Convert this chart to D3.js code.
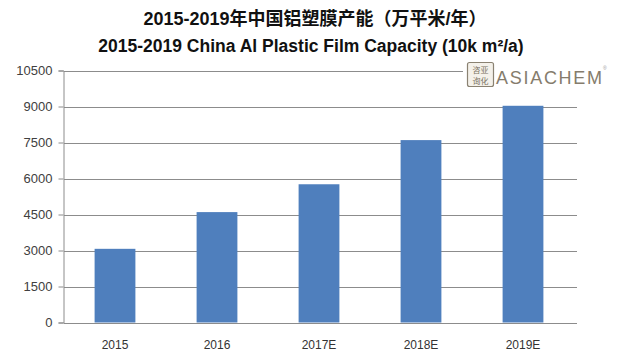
<!DOCTYPE html>
<html><head><meta charset="utf-8">
<script src="https://cdn.jsdelivr.net/npm/d3@7/dist/d3.min.js"></script>
<style>body{margin:0;background:#fff;}svg{display:block;}</style>
</head><body>
<svg id="c" width="640" height="362"></svg>
<script>
const categories = ["2015", "2016", "2017E", "2018E", "2019E"];
const capacity = [3070, 4600, 5760, 7600, 9030];
const yTicks = [0, 1500, 3000, 4500, 6000, 7500, 9000, 10500];
const titleLines = ["2015-2019年中国铝塑膜产能（万平米/年）", "2015-2019 China Al Plastic Film Capacity (10k m²/a)"];

const svg = d3.select("#c");
const m = {l: 64, r: 577, t: 70.5, b: 322.5};
const x = d3.scaleBand().domain(categories).range([m.l, m.r - 3]).paddingInner(0.6).paddingOuter(0.3);
const y = d3.scaleLinear().domain([0, 10500]).range([m.b, m.t]);

// gridlines
svg.append("g").selectAll("line").data(yTicks).join("line")
  .attr("x1", m.l).attr("x2", m.r)
  .attr("y1", d => Math.round(y(d)) + 0.5).attr("y2", d => Math.round(y(d)) + 0.5)
  .attr("stroke", "#8c8c8c").attr("stroke-width", 1);

// y axis
const ya = svg.append("g").attr("transform", `translate(${m.l - 0.5},0)`)
  .call(d3.axisLeft(y).tickValues(yTicks).tickSize(5).tickPadding(6).tickFormat(d3.format("d")));
ya.selectAll("path").attr("stroke", "#8c8c8c");
ya.selectAll("line").attr("stroke", "#8c8c8c");
ya.selectAll("text").attr("font-family", "Liberation Sans, Arial, sans-serif").attr("font-size", 13).attr("fill", "#404040");

// bars
svg.append("g").selectAll("rect").data(categories).join("rect")
  .attr("x", d => x(d)).attr("width", x.bandwidth())
  .attr("y", (d, i) => y(capacity[i])).attr("height", (d, i) => y(0) - y(capacity[i]))
  .attr("fill", "#4f7fbd");

// x labels
const xa = svg.append("g").attr("transform", `translate(0,${m.b})`)
  .call(d3.axisBottom(x).tickSize(0).tickPadding(18));
xa.select(".domain").remove();
xa.selectAll("text").attr("font-family", "Liberation Sans, Arial, sans-serif").attr("font-size", 12).attr("fill", "#333");

// titles
svg.append("text").attr("x", 315).attr("y", 25).attr("text-anchor", "middle")
  .attr("font-family", "Liberation Sans, Noto Sans CJK SC, sans-serif").attr("font-weight", "bold").attr("font-size", 18)
  .attr("fill", "#111").text(titleLines[0]);
svg.append("text").attr("x", 311).attr("y", 52).attr("text-anchor", "middle")
  .attr("font-family", "Liberation Sans, Arial, sans-serif").attr("font-weight", "bold").attr("font-size", 17.5)
  .attr("fill", "#111").text(titleLines[1]);

// logo
const lg = svg.append("g");
lg.append("rect").attr("x", 463).attr("y", 58).attr("width", 150).attr("height", 30).attr("fill", "#fff");
lg.append("rect").attr("x", 467.5).attr("y", 62.5).attr("width", 26).attr("height", 24).attr("fill", "#f4f1ea")
  .attr("stroke", "#8a8272").attr("stroke-width", 1.2).attr("rx", 2);
lg.append("text").attr("x", 480.5).attr("y", 72.5).attr("text-anchor", "middle")
  .attr("font-family", "Noto Sans CJK SC").attr("font-size", 8).attr("fill", "#7a7262").text("咨亚");
lg.append("text").attr("x", 480.5).attr("y", 83.5).attr("text-anchor", "middle")
  .attr("font-family", "Noto Sans CJK SC").attr("font-size", 8).attr("fill", "#7a7262").text("询化");
lg.append("text").attr("x", 496).attr("y", 84).attr("font-family", "Liberation Sans, Arial, sans-serif")
  .attr("font-size", 18).attr("fill", "#857c6c").attr("textLength", 106).text("ASIACHEM");
lg.append("text").attr("x", 603).attr("y", 70).attr("font-family", "Liberation Sans, Arial, sans-serif")
  .attr("font-size", 5).attr("fill", "#999").text("®");
</script>
</body></html>
